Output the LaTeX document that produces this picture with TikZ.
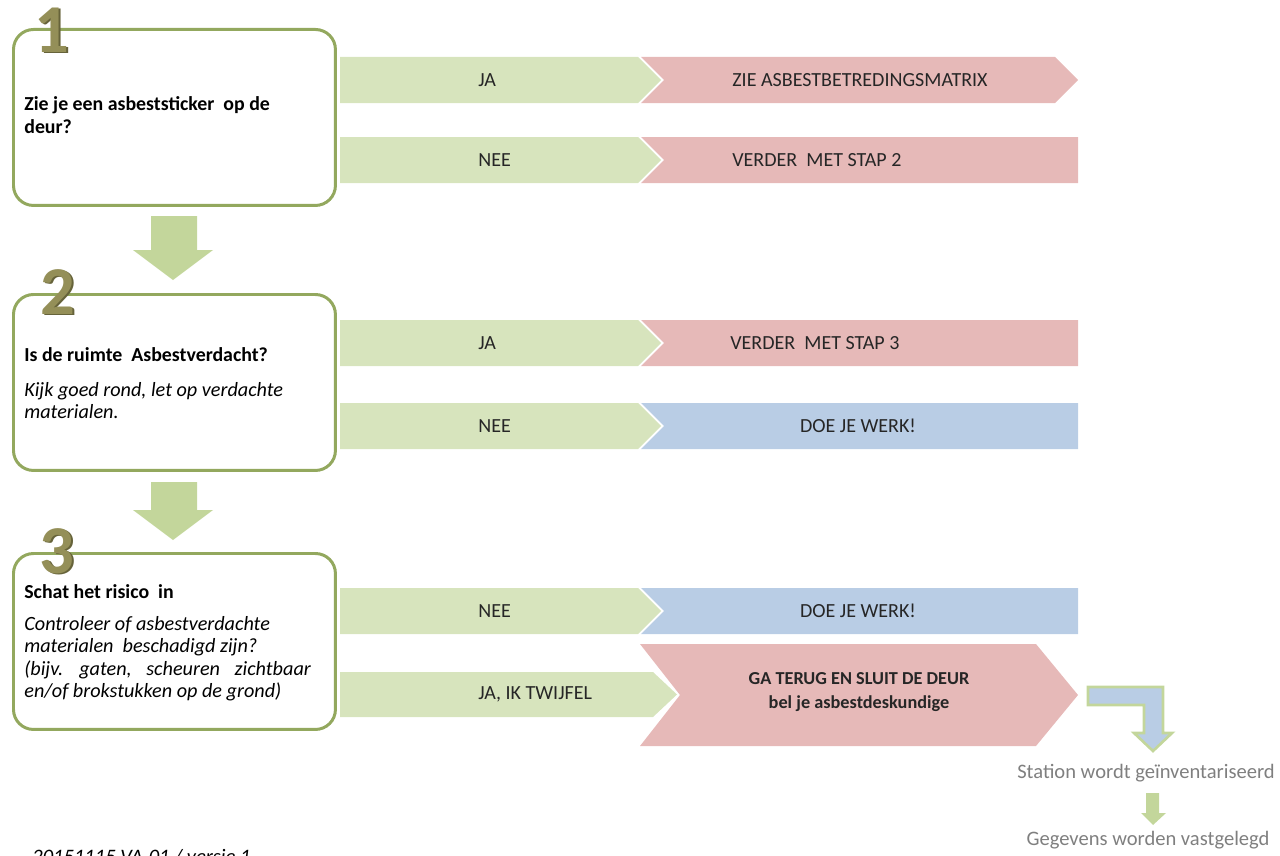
\documentclass[tikz,border=0pt]{standalone}
\usepackage{fontspec}
\setmainfont{Carlito}
\usetikzlibrary{positioning}

\definecolor{barGreen}{HTML}{D7E4BD}
\definecolor{barPink}{HTML}{E6B9B8}
\definecolor{barBlue}{HTML}{B9CDE5}
\definecolor{arrowGreen}{HTML}{C3D69B}
\definecolor{boxLine}{HTML}{93A85E}
\definecolor{stepOlive}{HTML}{948F58}
\definecolor{stepShade}{HTML}{66633A}
\definecolor{noteGrey}{HTML}{7F7F7F}

\begin{document}
\begin{tikzpicture}[x=0.02cm, y=-0.02cm,
    stepbox/.style={draw=boxLine, line width=1.7pt, rounded corners=0.4cm, fill=white,
      minimum width=6.44cm, minimum height=3.52cm, anchor=north west, inner sep=0pt},
    stepnr/.style={inner sep=0pt, font=\fontsize{39}{39}\selectfont\bfseries, text=stepOlive},
    boxtitle/.style={inner sep=0pt, anchor=west, font=\fontsize{11.3}{13}\selectfont\bfseries},
    boxbody/.style={inner sep=0pt, anchor=north west, align=left, font=\fontsize{11.5}{12.7}\selectfont\itshape},
    bartext/.style={inner sep=0pt, font=\fontsize{11.4}{13}\selectfont, text=black!85},
    note/.style={inner sep=0pt, font=\fontsize{11.7}{13}\selectfont, text=noteGrey}]
    \useasboundingbox (0,0) rectangle (1280,855);

    % Draw the three step boxes
    \node[stepbox] (box1) at (12,28) {};
    \node[stepbox] (box2) at (12,293) {};
    \node[stepbox] (box3) at (12,552) {};

    % Step numbers on the box edges
    \foreach \n/\x/\y in {1/52/30, 2/58/292, 3/57/551} {
      \node[stepnr, text=stepShade] at (\x+1.5,\y+1.5) {\n};
      \node[stepnr] (nr\n) at (\x,\y) {\n};
    }

    % Questions
    \node[boxtitle, align=left] (q1) at (24,115) {Zie je een asbeststicker~ op de\\deur?};
    \node[boxtitle] (q2) at (24,355) {Is de ruimte~ Asbestverdacht?};
    \node[boxbody] (h2) at (24,382) {Kijk goed rond, let op verdachte\\materialen.};
    \node[boxtitle] (q3) at (24,592) {Schat het risico~ in};
    \node[boxbody] (h3) at (24,616) {Controleer of asbestverdachte\\materialen~ beschadigd zijn?\\(bijv.\hspace{0.5em} gaten,\hspace{0.5em} scheuren\hspace{0.5em} zichtbaar\\en/of brokstukken op de grond)};

    % Down arrows between the boxes
    \foreach \t/\b in {216/280, 482/540} {
      \fill[arrowGreen] (151,\t) -- (197,\t) -- (197,\b-30) -- (213,\b-30) -- (173,\b)
        -- (133,\b-30) -- (151,\b-30) -- cycle;
    }

    % Green answer bars
    \foreach \y in {57, 137, 320, 403, 588} {
      \fill[barGreen] (340,\y) -- (638,\y) -- (661,\y+23) -- (638,\y+46) -- (340,\y+46) -- cycle;
    }
    \fill[barGreen] (340,672) -- (653,672) -- (677,694.5) -- (653,717) -- (340,717) -- cycle;

    % Result bars
    \fill[barPink] (641,57) -- (1055,57) -- (1078,80) -- (1055,103) -- (641,103) -- (664,80) -- cycle;
    \foreach \y/\c in {137/barPink, 320/barPink, 403/barBlue, 588/barBlue} {
      \fill[\c] (641,\y) -- (1078,\y) -- (1078,\y+46) -- (641,\y+46) -- (664,\y+23) -- cycle;
    }
    \fill[barPink] (640,644) -- (1036,644) -- (1078,695) -- (1036,746) -- (640,746) -- (680,695) -- cycle;

    % Answer texts
    \foreach \y/\t in {80/JA, 160/NEE, 343/JA, 426/NEE, 611/NEE, 694.5/{JA, IK TWIJFEL}} {
      \node[bartext, anchor=west] at (478,\y) {\t};
    }
    \node[bartext, anchor=west] (r1) at (732,80) {ZIE ASBESTBETREDINGSMATRIX};
    \node[bartext, anchor=west] (r2) at (732,160) {VERDER~ MET STAP 2};
    \node[bartext, anchor=west] (r3) at (730,343) {VERDER~ MET STAP 3};
    \node[bartext] (r4) at (858,426) {DOE JE WERK!};
    \node[bartext] (r5) at (858,611) {DOE JE WERK!};
    \node[bartext, align=center, font=\fontsize{10.4}{14}\selectfont\bfseries] (r6) at (859,692)
      {GA TERUG EN SLUIT DE DEUR\\bel je asbestdeskundige};

    % Follow-up
    \filldraw[fill=barBlue, draw=arrowGreen, line width=1.5pt] (1088,687) -- (1163,687) -- (1163,733)
      -- (1172,733) -- (1153,751) -- (1134,733) -- (1144,733) -- (1144,705) -- (1088,705) -- cycle;
    \node[note] (inv) at (1146,773) {Station wordt geïnventariseerd};
    \node[note] (vast) at (1148,840) {Gegevens worden vastgelegd};
    \fill[arrowGreen] (1146,793) -- (1159,793) -- (1159,813) -- (1166,813) -- (1153,825)
      -- (1141,813) -- (1146,813) -- cycle;

    \node[inner sep=0pt, anchor=north west, font=\fontsize{11.7}{13}\selectfont\itshape] (versie)
      at (32,849) {20151115 VA-01 / versie 1};
\end{tikzpicture}
\end{document}
